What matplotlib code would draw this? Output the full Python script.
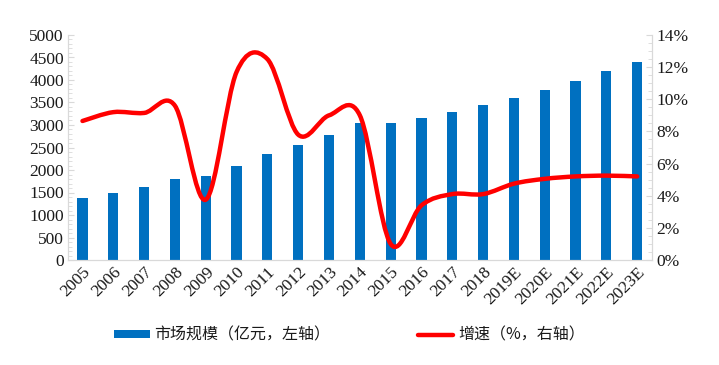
import numpy as np
import matplotlib
matplotlib.use('Agg')
import matplotlib.pyplot as plt
from matplotlib.path import Path
from matplotlib.patches import PathPatch, Patch
from matplotlib.lines import Line2D
from matplotlib.ticker import MultipleLocator, FuncFormatter

years = ['2005', '2006', '2007', '2008', '2009', '2010', '2011', '2012', '2013', '2014',
         '2015', '2016', '2017', '2018', '2019E', '2020E', '2021E', '2022E', '2023E']
market = [1370, 1500, 1625, 1795, 1865, 2080, 2355, 2550, 2780, 3035,
          3055, 3165, 3295, 3440, 3590, 3785, 3980, 4190, 4405]
growth = [8.65, 9.2, 9.15, 9.6, 3.75, 11.7, 12.5, 7.8, 9.0, 9.0,
          1.0, 3.4, 4.1, 4.1, 4.75, 5.05, 5.2, 5.25, 5.2]

label_bar = '市场规模（亿元，左轴）'
label_line = '增速（%，右轴）'

blue = '#0070C0'
red = '#FF0000'
grey = '#D9D9D9'
cjk = ['Noto Sans CJK SC', 'DejaVu Sans']

plt.rcParams['font.family'] = 'serif'
plt.rcParams['font.serif'] = ['Liberation Serif', 'DejaVu Serif']


def smooth_path(xs, ys):
    # excel-like smoothed line: catmull-rom converted to cubic bezier segments
    pts = np.column_stack([xs, ys]).astype(float)
    n = len(pts)
    verts = [pts[0]]
    codes = [Path.MOVETO]
    for i in range(n - 1):
        p0 = pts[i - 1] if i > 0 else pts[i]
        p1 = pts[i]
        p2 = pts[i + 1]
        p3 = pts[i + 2] if i + 2 < n else pts[i + 1]
        c1 = p1 + (p2 - p0) / 6
        c2 = p2 - (p3 - p1) / 6
        verts += [c1, c2, p2]
        codes += [Path.CURVE4] * 3
    return Path(verts, codes)


fig = plt.figure(figsize=(7.19, 3.65), dpi=100)
ax = fig.add_axes([68 / 719, 105 / 365, 584 / 719, 225 / 365])
ax2 = ax.twinx()

x = np.arange(len(years))
ax.bar(x, market, width=0.33, color=blue, zorder=2)
ax.set_xlim(-0.47, len(years) - 0.52)
ax.set_ylim(0, 5000)
ax.yaxis.set_major_locator(MultipleLocator(500))
ax.yaxis.set_minor_locator(MultipleLocator(100))

ax2.set_ylim(0, 14)
ax2.yaxis.set_major_locator(MultipleLocator(2))
ax2.yaxis.set_minor_locator(MultipleLocator(0.5))
ax2.yaxis.set_major_formatter(FuncFormatter(lambda v, p: '%d%%' % v))

ax2.add_patch(PathPatch(smooth_path(x, growth), facecolor='none', edgecolor=red,
                        lw=3.2, capstyle='round', joinstyle='round', zorder=3))

for a in (ax, ax2):
    for s in a.spines.values():
        s.set_color(grey)
    a.spines['top'].set_visible(False)
    a.tick_params(axis='y', which='both', direction='in', color=grey,
                  labelsize=12.5, labelcolor='#1a1a1a', pad=3)
    a.tick_params(axis='y', which='major', length=4)
    a.tick_params(axis='y', which='minor', length=3)

ax.set_xticks(x)
ax.set_xticklabels(years, rotation=45, ha='right', rotation_mode='anchor',
                   fontsize=12.5, color='#1a1a1a')
ax.tick_params(axis='x', length=0, pad=3)

handles = [Patch(facecolor=blue, edgecolor='none'),
           Line2D([0], [0], color=red, lw=3.2, solid_capstyle='round')]
leg = fig.legend(handles, [label_bar, label_line], loc='center left',
                 bbox_to_anchor=(100 / 719, 1 - 335 / 365), ncol=2, frameon=False,
                 prop={'family': cjk, 'size': 11.5}, handlelength=2.2,
                 handleheight=0.45, handletextpad=0.3, columnspacing=5.5)
for t in leg.get_texts():
    t.set_color('#1a1a1a')

fig.savefig('out.png', dpi=100)
